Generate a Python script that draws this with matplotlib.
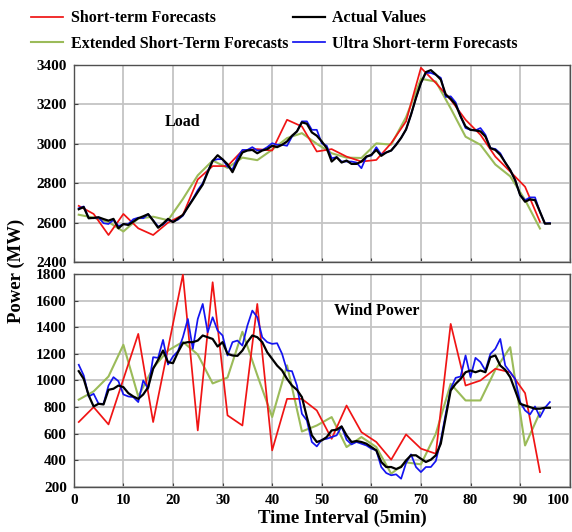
import numpy as np
import matplotlib
matplotlib.use("Agg")
from matplotlib import pyplot as plt

# time axis: every 5-min interval for actual / ultra short-term,
# every third interval for the coarser forecasts
t_fine = np.arange(1, 97)
t_coarse = np.arange(1, 95, 3)

# ---- Load (MW) ----
load_actual = [2668, 2679, 2622, 2624, 2627, 2618, 2610, 2619, 2571, 2593,
               2588, 2605, 2622, 2632, 2643, 2610, 2574, 2595, 2619, 2602,
               2620, 2639, 2678, 2716, 2755, 2793, 2855, 2913, 2942, 2921,
               2896, 2856, 2910, 2956, 2966, 2969, 2952, 2966, 2973, 2990,
               2983, 2995, 3012, 3041, 3063, 3109, 3102, 3058, 3041, 3012,
               2978, 2910, 2932, 2905, 2915, 2898, 2898, 2910, 2935, 2944,
               2969, 2939, 2956, 2966, 2995, 3030, 3073, 3148, 3233, 3309,
               3364, 3374, 3352, 3326, 3250, 3228, 3199, 3139, 3088, 3071,
               3068, 3063, 3037, 2978, 2969, 2944, 2905, 2867, 2816, 2740,
               2706, 2718, 2714, 2655, 2595, 2595]
load_ultra = [2673, 2682, 2625, 2622, 2627, 2597, 2593, 2614, 2583, 2591,
              2593, 2617, 2625, 2622, 2643, 2612, 2580, 2590, 2615, 2605,
              2615, 2635, 2680, 2720, 2765, 2800, 2860, 2915, 2922, 2922,
              2884, 2870, 2930, 2969, 2969, 2983, 2966, 2968, 2983, 3003,
              2995, 2995, 2990, 3037, 3063, 3114, 3114, 3071, 3071, 3003,
              2990, 2927, 2932, 2910, 2910, 2910, 2905, 2876, 2935, 2940,
              2983, 2945, 2956, 2966, 2998, 3030, 3073, 3148, 3233, 3309,
              3360, 3360, 3350, 3335, 3238, 3241, 3210, 3139, 3080, 3071,
              3068, 3080, 3046, 2978, 2974, 2952, 2905, 2867, 2816, 2740,
              2714, 2728, 2728, 2655, 2595, 2598]
load_short = [2685, 2644, 2537, 2644, 2571, 2537, 2600, 2639, 2819, 2887,
              2887, 2966, 2973, 2966, 3122, 3088, 2961, 2973, 2935, 2910,
              2918, 3003, 3114, 3386, 3309, 3224, 3122, 3046, 2935, 2859,
              2782, 2604]
load_ext = [2640, 2625, 2603, 2555, 2621, 2630, 2612, 2720, 2840, 2915,
            2878, 2930, 2917, 2970, 3029, 3054, 3000, 2952, 2930, 2928,
            3002, 2996, 3135, 3330, 3316, 3180, 3036, 2995, 2895, 2835,
            2715, 2570]

# ---- Wind power (MW) ----
wind_actual = [1070, 1012, 888, 805, 825, 820, 930, 938, 962, 950,
               905, 880, 862, 895, 950, 1088, 1155, 1225, 1138, 1130,
               1212, 1280, 1288, 1288, 1300, 1338, 1325, 1312, 1255, 1288,
               1200, 1188, 1185, 1225, 1288, 1338, 1325, 1288, 1212, 1162,
               1112, 1075, 1012, 962, 930, 875, 725, 588, 538, 550,
               575, 625, 630, 655, 588, 538, 545, 538, 525, 500,
               475, 388, 350, 350, 335, 350, 400, 438, 438, 412,
               388, 405, 438, 525, 725, 925, 975, 1012, 1062, 1075,
               1062, 1075, 1062, 1175, 1188, 1112, 1080, 1025, 925, 825,
               812, 800, 788, 788, 795, 795]
wind_ultra = [1118, 1038, 880, 900, 825, 825, 962, 1025, 995, 895,
              880, 875, 838, 1000, 938, 1175, 1170, 1305, 1120, 1180,
              1220, 1325, 1462, 1238, 1462, 1575, 1362, 1475, 1375, 1338,
              1188, 1288, 1300, 1262, 1412, 1525, 1475, 1325, 1288, 1275,
              1280, 1200, 1075, 1070, 962, 750, 700, 538, 505, 555,
              562, 575, 588, 655, 555, 520, 538, 525, 512, 488,
              475, 350, 305, 288, 295, 262, 380, 445, 350, 312,
              350, 350, 395, 550, 750, 938, 1020, 1030, 1188, 1025,
              1170, 1138, 1075, 1200, 1238, 1312, 1112, 1062, 1012, 838,
              775, 745, 805, 725, 795, 838]
wind_short = [688, 800, 670, 1010, 1350, 688, 1240, 1795, 625, 1738,
              738, 662, 1575, 475, 862, 862, 775, 562, 812, 612,
              538, 405, 595, 488, 450, 1425, 962, 1000, 1088, 1062,
              905, 312]
wind_ext = [856, 918, 1030, 1268, 880, 1095, 1225, 1290, 1195, 978,
            1022, 1366, 1040, 726, 1114, 617, 662, 725, 500, 575,
            500, 300, 385, 370, 600, 975, 850, 850, 1080, 1250,
            512, 760]

labels = ["Short-term Forecasts", "Extended Short-Term Forecasts",
          "Actual Values", "Ultra Short-term Forecasts"]
c_red, c_green, c_black, c_blue = "#f01414", "#9bbb59", "#000000", "#1414f0"

plt.rcParams["font.family"] = ["Liberation Serif", "DejaVu Serif"]
plt.rcParams["font.weight"] = "bold"

fig = plt.figure(figsize=(5.72, 5.32), dpi=100)
ax1 = fig.add_axes([0.129, 0.5075, 0.867, 0.3703])
ax2 = fig.add_axes([0.129, 0.0846, 0.867, 0.4004])


def draw(ax, short, ext, actual, ultra):
    h_ext, = ax.plot(t_coarse, ext, color=c_green, lw=1.5, zorder=3)
    h_short, = ax.plot(t_coarse, short, color=c_red, lw=1.25, zorder=4)
    h_ultra, = ax.plot(t_fine, ultra, color=c_blue, lw=1.25, zorder=5)
    h_act, = ax.plot(t_fine, actual, color=c_black, lw=1.6, zorder=6)
    ax.set_xlim(0, 100)
    ax.set_xticks(np.arange(0, 101, 10))
    ax.grid(True, color="#c4c4c4", lw=1.3)
    ax.set_axisbelow(True)
    ax.tick_params(direction="in", length=3, labelsize=11, pad=5,
                   color="#404040")
    for s in ax.spines.values():
        s.set_color("#505050")
        s.set_linewidth(1.0)
    for lab in ax.get_xticklabels() + ax.get_yticklabels():
        lab.set_fontweight("bold")
    return [h_short, h_ext, h_act, h_ultra]


handles = draw(ax1, load_short, load_ext, load_actual, load_ultra)
ax1.set_ylim(2400, 3400)
ax1.set_yticks(np.arange(2400, 3401, 200))
ax1.tick_params(labelbottom=False)
ax1.text(22, 3110, "Load", fontsize=11.5, fontweight="bold", ha="center",
         va="center")

draw(ax2, wind_short, wind_ext, wind_actual, wind_ultra)
ax2.set_ylim(200, 1800)
ax2.set_yticks(np.arange(200, 1801, 200))
ax2.text(61, 1520, "Wind Power", fontsize=11.5, fontweight="bold",
         ha="center", va="center")
# keep the last tick label inside the figure
ax2.get_xticklabels()[-1].set_horizontalalignment("right")

fig.legend(handles, labels, ncol=2, loc="upper left",
           bbox_to_anchor=(0.055, 0.981), frameon=False, borderpad=0,
           borderaxespad=0, handlelength=2.0, handletextpad=0.45,
           columnspacing=0.3, labelspacing=0.6,
           prop={"size": 11.5, "weight": "bold"})

fig.text(0.028, 0.49, "Power (MW)", rotation=90, ha="center", va="center",
         fontsize=13.5, fontweight="bold")
fig.text(0.598, 0.026, "Time Interval (5min)", ha="center", va="center",
         fontsize=13.5, fontweight="bold")

fig.savefig("out.png", dpi=100)
